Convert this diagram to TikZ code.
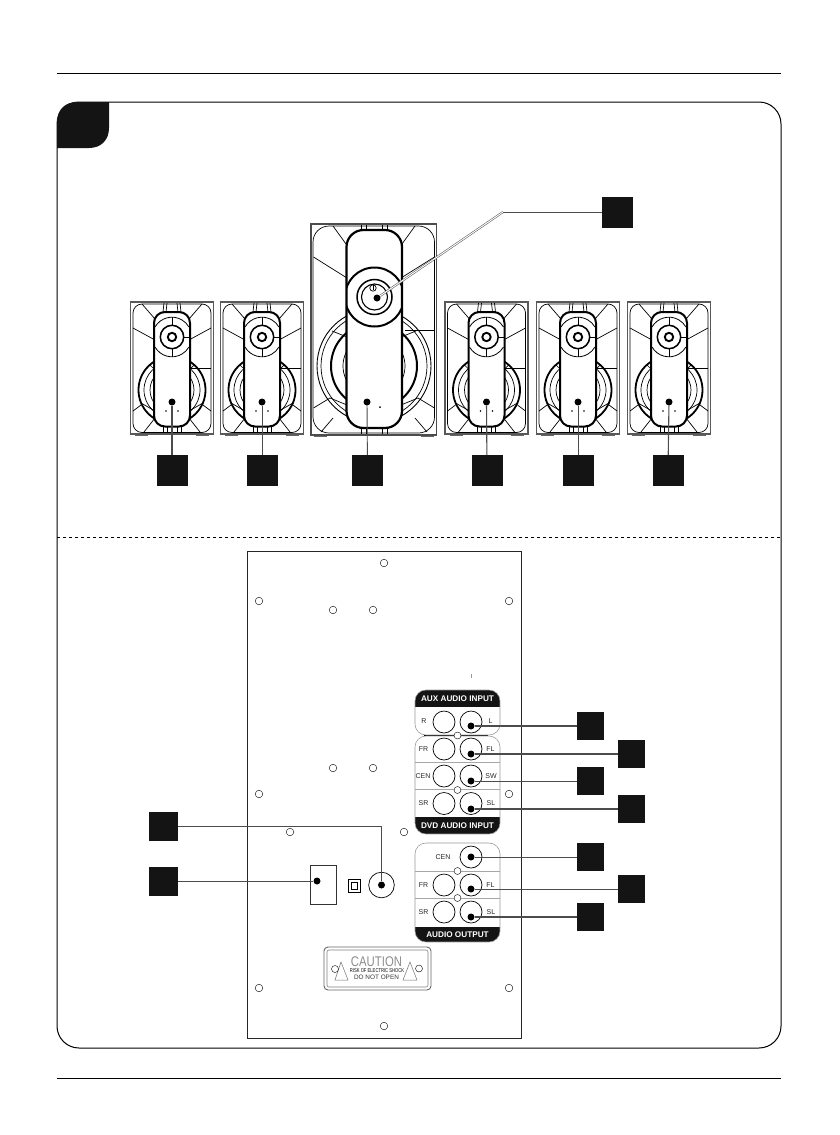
\documentclass[tikz,border=0pt]{standalone}
\usepackage{fontspec}
\setmainfont{Liberation Sans}
\tikzset{
	hole/.style={draw, thin, circle, inner sep=0, minimum size=7.6pt},
	jack/.style={draw, line width=0.7pt, circle, inner sep=0, minimum size=22pt},
	tipdot/.style={circle, fill=black, inner sep=0, minimum size=7pt},
	numbox/.style={fill=black!92, inner sep=0, minimum width=#1, minimum height=#1},
	jacklabel/.style={font=\fontsize{7}{8}\selectfont, text=black!85, inner sep=0},
	stripe/.style={font=\fontsize{8.2}{9}\selectfont\bfseries, text=white, inner sep=0},
	leader/.style={draw=black!70, line width=#1},
	divider/.style={draw=black!35, line width=0.8pt}
}
% small satellite speaker, centred on x=0
\newcommand{\smallspeaker}[1]{
	\draw [black!65, line width=1.1pt] (-41.5, 302) rectangle (41.5, 434);
	\draw [line width=0.7pt, rounded corners=9] (-39, 304) rectangle (39, 432.5);
	\foreach \s in {-1, 1} {
		\draw [line width=0.7pt] (\s*30, 304) -- (\s*17, 319);
		\draw [line width=0.7pt] (\s*39, 328) -- (\s*17, 340);
		\draw [line width=0.7pt] (\s*39, 411) -- (\s*31, 405);
		\draw [line width=0.7pt] (\s*28, 432) -- (\s*17, 418);
		\draw [line width=0.7pt] (\s*5, 303) -- (\s*6, 312);
		\draw [line width=0.7pt] (\s*8, 303) -- (\s*9, 312);
		\draw [line width=0.7pt] (\s*5, 427) -- (\s*5, 433);
		\draw [line width=0.7pt] (\s*9, 427) -- (\s*9, 433);
		\draw [black!60, line width=1pt] (\s*24, 435) -- (\s*37, 435);
	}
	\draw [line width=0.7pt] (17, 368) -- (39, 368);
	\draw [line width=1.8pt] (0, 390) circle (33.5);
	\draw [line width=0.7pt] (0, 390) circle (28);
	\draw [line width=0.7pt] (0, 390) circle (22);
	\foreach \s in {-1, 1} {
		\draw [line width=0.7pt] (\s*22, 365) -- (\s*17, 370);
		\draw [line width=0.7pt] (\s*31, 403) -- (\s*17, 411);
	}
	\draw [line width=2pt, fill=white, rounded corners=11] (-18, 312) rectangle (18, 426.5);
	\draw [line width=0.8pt] (-17, 327) arc [start angle=-150, end angle=-30, radius=19.6];
	\draw [line width=0.8pt] (-17, 347) arc [start angle=150, end angle=30, radius=19.6];
	\draw [line width=0.7pt] (0, 317) -- (0, 325);
	\draw [line width=0.7pt] (0, 349) -- (0, 357);
	\draw [line width=0.7pt] (12, 337) -- (17, 337);
	\draw [line width=1.5pt, fill=white] (0, 337) circle (11.7);
	\draw [line width=1.9pt] (0, 337) circle (4.2);
	\fill (-6, 411) circle (0.9);
	\fill (6, 411) circle (0.9);
	\node [tipdot] (dot#1) at (0, 402) {};
}
\begin{document}
\begin{tikzpicture}[x=1pt, y=-1pt]
	\useasboundingbox (0, 0) rectangle (840, 1135);

	\draw [line width=1pt] (57, 73) -- (781, 73);
	\draw [line width=1pt] (57, 1078) -- (781, 1078);
	\draw [line width=1pt, rounded corners=22] (57, 102) rectangle (781, 1048);
	\fill [black!92] (57, 148) -- (57, 122) .. controls (57, 110) and (65, 102) .. (77, 102)
		-- (109, 102) -- (109, 128) .. controls (109, 140) and (101, 148) .. (89, 148) -- cycle;
	\draw [dashed, line width=0.8pt] (57, 537) -- (781, 537);

	% satellites
	\foreach \n/\cx in {a/172, b/262, c/486.5, d/578, e/669} {
		\begin{scope}[xshift=\cx pt]
			\smallspeaker{\n}
		\end{scope}
	}

	% subwoofer
	\draw [black!70, line width=1.1pt] (311, 224) rectangle (436.5, 435);
	\draw [line width=0.7pt, rounded corners=16] (313, 226) rectangle (434.5, 433);
	\foreach \s in {-1, 1} {
		\begin{scope}[xshift=374pt]
			\draw [line width=0.7pt] (\s*41, 226) -- (\s*28, 244);
			\draw [line width=0.7pt] (\s*60.5, 257) -- (\s*27, 278);
			\draw [line width=0.7pt] (\s*60.5, 408) -- (\s*44, 398);
			\draw [line width=0.7pt] (\s*53, 432) -- (\s*41, 418);
			\draw [line width=0.7pt] (\s*8, 225) -- (\s*8, 231);
			\draw [line width=0.7pt] (\s*13, 225) -- (\s*13, 231);
			\draw [line width=0.7pt] (\s*8, 428) -- (\s*8, 434);
			\draw [line width=0.7pt] (\s*13, 428) -- (\s*13, 434);
			\draw [black!60, line width=1pt] (\s*47, 436) -- (\s*60, 436);
		\end{scope}
	}
	\draw [line width=0.7pt] (405, 330) -- (434.5, 330);
	\draw [line width=0.9pt] (374, 366) circle (57);
	\draw [line width=0.7pt] (374, 366) circle (53);
	\draw [line width=2pt] (374, 366) circle (43);
	\draw [line width=0.7pt] (374, 366) circle (31);
	\foreach \s in {-1, 1} {
		\begin{scope}[xshift=374pt]
			\draw [line width=0.7pt] (\s*42, 331) -- (\s*27, 337);
			\draw [line width=0.7pt] (\s*44, 398) -- (\s*27, 405);
		\end{scope}
	}
	\draw [line width=2.2pt, fill=white, rounded corners=17] (346.5, 230) rectangle (402, 428);
	\begin{scope}
		\clip (346.5, 230) rectangle (402, 428);
		\draw [line width=2pt] (374.5, 297) circle (29.5);
	\end{scope}
	\draw [line width=1.5pt] (374.5, 297) circle (17.5);
	\draw [line width=1.1pt] (374.5, 297) circle (13);
	\draw [line width=0.7pt] (373, 288) circle (3.2);
	\draw [line width=0.7pt] (373, 284) -- (373, 290);
	\fill (380, 407) circle (1);
	\node [tipdot] (dotsub) at (367, 402) {};
	\node [tipdot] (dotpower) at (377, 298) {};

	% rear panel
	\draw [line width=0.9pt, black!85] (247, 551) rectangle (521, 1038);
	\foreach \hx/\hy [count=\i] in {384/563, 259/601, 509/601, 333/610, 373/610, 333/768, 373/768,
		259/794, 509/794, 290/832, 404/832, 259/988, 509/988, 384/1026} {
		\node [hole] (hole\i) at (\hx, \hy) {};
	}
	\draw [black!40, line width=0.4pt] (471, 674) -- (471, 678);

	\draw [line width=0.8pt, black!80] (310, 865) rectangle (336, 904);
	\draw [line width=1pt] (348, 879) rectangle (360, 892);
	\draw [line width=0.6pt] (351, 882) rectangle (357, 889);
	\node [draw, line width=0.7pt, circle, inner sep=0, minimum size=25.6pt] (input) at (381.5, 885) {};
	\node [tipdot] (dotinput) at (381.5, 885) {};
	\node [tipdot] (dotmains) at (317, 881) {};

	% caution plate
	\draw [black!60, line width=0.9pt, rounded corners=4] (324, 947) rectangle (431, 990);
	\draw [black!50, line width=0.6pt, rounded corners=2] (327, 950) rectangle (428, 987);
	\draw [black!55, line width=0.5pt] (341, 962) -- (348, 980) -- (335, 980) -- cycle;
	\draw [black!55, line width=0.5pt] (410, 962) -- (417, 980) -- (403, 980) -- cycle;
	\node [hole, fill=white, minimum size=7pt] (platea) at (335, 969) {};
	\node [hole, fill=white, minimum size=7pt] (plateb) at (419, 968.5) {};
	\node [text=black!45, inner sep=0, xscale=0.81, font=\fontsize{14}{15}\selectfont] (cautionA) at (376.5, 962) {CAUTION};
	\node [xscale=0.74, inner sep=0, font=\fontsize{5.6}{6}\selectfont] (cautionB) at (377, 970.5) {RISK OF ELECTRIC SHOCK};
	\node [black!80, inner sep=0, font=\fontsize{6.4}{7}\selectfont] (cautionC) at (376.5, 977.5) {DO  NOT  OPEN};

	% AUX block
	\begin{scope}
		\clip [rounded corners=11] (415, 690) rectangle (500, 735);
		\fill [black!92] (415, 690) rectangle (500, 707);
	\end{scope}
	\draw [black!40, line width=0.6pt, rounded corners=11] (415, 690) rectangle (500, 735);
	\draw [line width=0.7pt] (424, 735) -- (488, 735);
	\node [stripe] (auxtitle) at (457.5, 698.5) {AUX AUDIO INPUT};
	\node [jack] (jackR) at (444, 722) {};
	\node [jack] (jackL) at (471, 722) {};
	\node [jacklabel] (labelR) at (424, 721) {R};
	\node [jacklabel] (labelL) at (490.5, 721) {L};
	\node [tipdot] (dotL) at (471, 726) {};

	% DVD block
	\begin{scope}
		\clip [rounded corners=11] (415, 736) rectangle (500, 834);
		\fill [black!92] (415, 817) rectangle (500, 834);
	\end{scope}
	\draw [black!40, line width=0.6pt, rounded corners=11] (415, 736) rectangle (500, 834);
	\draw [divider] (415, 762) -- (500, 762);
	\draw [divider] (415, 789) -- (500, 789);
	\node [stripe] (dvdtitle) at (457.5, 825.5) {DVD AUDIO INPUT};
	\node [jack] (jackFR) at (444, 749) {};
	\node [jack] (jackFL) at (471, 749) {};
	\node [jack] (jackCEN) at (444, 776) {};
	\node [jack] (jackSW) at (471, 776) {};
	\node [jack] (jackSR) at (444, 803.5) {};
	\node [jack] (jackSL) at (471, 803.5) {};
	\node [jacklabel] (labelFR) at (423.5, 749) {FR};
	\node [jacklabel] (labelFL) at (490.5, 749) {FL};
	\node [jacklabel] (labelCEN) at (423, 776) {CEN};
	\node [jacklabel] (labelSW) at (491, 776) {SW};
	\node [jacklabel] (labelSR) at (423.5, 803.5) {SR};
	\node [jacklabel] (labelSL) at (491, 803.5) {SL};
	\node [tipdot] (dotFL) at (471, 754) {};
	\node [tipdot] (dotSW) at (471, 781) {};
	\node [tipdot] (dotSL) at (471, 809) {};
	\node [hole, fill=white, minimum size=7pt] (holeA) at (457.5, 735.5) {};
	\node [hole, fill=white, minimum size=7pt] (holeB) at (457.5, 790) {};

	% output block
	\begin{scope}
		\clip [rounded corners=11] (415, 843) rectangle (500, 942);
		\fill [black!92] (415, 927) rectangle (500, 942);
	\end{scope}
	\draw [black!40, line width=0.6pt, rounded corners=11] (415, 843) rectangle (500, 942);
	\draw [divider] (415, 871) -- (500, 871);
	\draw [divider] (415, 898) -- (500, 898);
	\node [stripe] (outtitle) at (457.5, 934.5) {AUDIO OUTPUT};
	\node [jack] (outCEN) at (471, 857) {};
	\node [jack] (outFR) at (444, 885) {};
	\node [jack] (outFL) at (471, 885) {};
	\node [jack] (outSR) at (444, 912) {};
	\node [jack] (outSL) at (471, 912) {};
	\node [jacklabel] (labeloCEN) at (443, 857) {CEN};
	\node [jacklabel] (labeloFR) at (423.5, 885) {FR};
	\node [jacklabel] (labeloFL) at (490.5, 885) {FL};
	\node [jacklabel] (labeloSR) at (423.5, 912) {SR};
	\node [jacklabel] (labeloSL) at (491, 912) {SL};
	\node [tipdot] (dotoCEN) at (471, 857) {};
	\node [tipdot] (dotoFL) at (471, 889) {};
	\node [tipdot] (dotoSL) at (471, 917) {};
	\node [hole, fill=white, minimum size=7pt] (holeC) at (457.5, 871) {};
	\node [hole, fill=white, minimum size=7pt] (holeD) at (457.5, 898) {};

	% black squares
	\node [numbox=31pt] (sqpower) at (617.5, 212) {};
	\node [numbox=31pt] (sqa) at (172, 470.5) {};
	\node [numbox=31pt] (sqb) at (262, 470.5) {};
	\node [numbox=31pt] (sqsub) at (367.5, 470.5) {};
	\node [numbox=31pt] (sqc) at (487, 470.5) {};
	\node [numbox=31pt] (sqd) at (578, 470.5) {};
	\node [numbox=31pt] (sqe) at (668, 470.5) {};
	\node [numbox=27.5pt] (sqL) at (590.5, 726) {};
	\node [numbox=27.5pt] (sqFL) at (631.5, 754) {};
	\node [numbox=27.5pt] (sqSW) at (590.5, 781) {};
	\node [numbox=27.5pt] (sqSL) at (631.5, 809) {};
	\node [numbox=27.5pt] (sqoCEN) at (590.5, 857) {};
	\node [numbox=27.5pt] (sqoFL) at (631.5, 889) {};
	\node [numbox=27.5pt] (sqoSL) at (590.5, 917) {};
	\node [numbox=29pt] (sqinput) at (163.5, 826.5) {};
	\node [numbox=29pt] (sqmains) at (163.5, 881) {};

	% leaders
	\coordinate (bend) at (503, 212);
	\draw [black!60, line width=0.6pt, double=white, double distance=0.9pt] (dotpower) -- (bend);
	\draw [leader=0.9pt] (bend) -- (sqpower);
	\draw [leader=1.1pt] (dota) -- (sqa);
	\draw [leader=1pt] (dotb) -- (sqb);
	\draw [leader=0.9pt] (dotsub) -- (sqsub);
	\draw [leader=1.1pt] (dotc) -- (sqc);
	\draw [leader=1pt] (dotd) -- (sqd);
	\draw [leader=1.1pt] (dote) -- (sqe);
	\draw [leader=1.4pt] (dotL) -- (sqL);
	\draw [leader=1.4pt] (dotFL) -- (sqFL);
	\draw [leader=0.9pt] (dotSW) -- (sqSW);
	\draw [leader=1.4pt] (dotSL) -- (sqSL);
	\draw [leader=0.9pt] (dotoCEN) -- (sqoCEN);
	\draw [leader=0.8pt] (dotoFL) -- (sqoFL);
	\draw [leader=1.4pt] (dotoSL) -- (sqoSL);
	\draw [leader=0.9pt] (sqinput) -| (dotinput);
	\draw [leader=0.8pt] (sqmains) -- (dotmains);
\end{tikzpicture}
\end{document}
